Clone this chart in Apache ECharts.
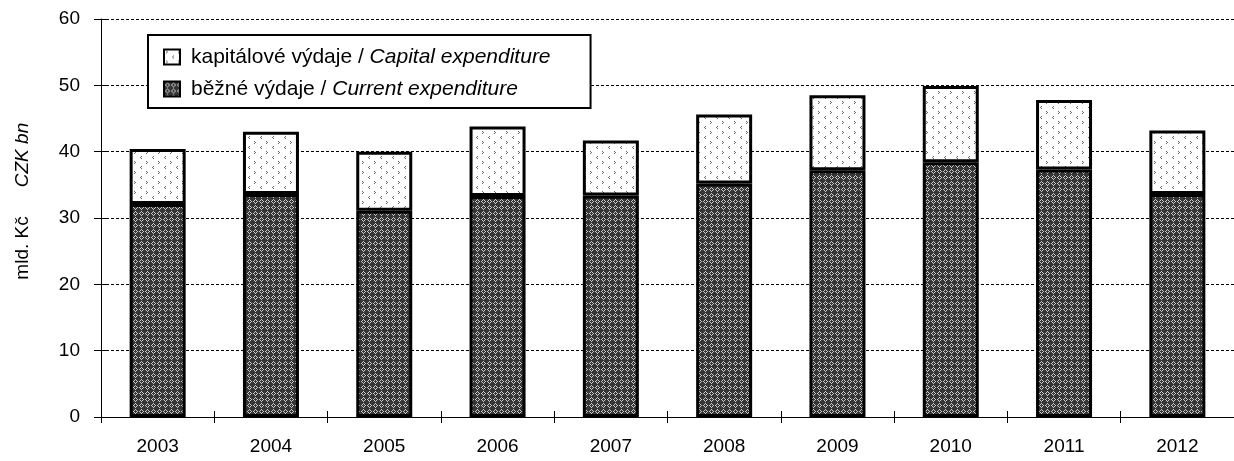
<!DOCTYPE html>
<html>
<head>
<meta charset="utf-8">
<script src="https://cdn.jsdelivr.net/npm/echarts@6/dist/echarts.min.js"></script>
<style>
  html, body { margin: 0; padding: 0; background: #fff; }
  #chart { width: 1234px; height: 461px; }
</style>
</head>
<body>
<div id="chart"></div>
<script>
// data
const years = ['2003', '2004', '2005', '2006', '2007', '2008', '2009', '2010', '2011', '2012'];
const currentExp = [32.1, 33.6, 31.1, 33.3, 33.4, 35.2, 37.2, 38.4, 37.3, 33.6];
const capitalExp = [8.3, 9.4, 8.9, 10.5, 8.3, 10.4, 11.3, 11.5, 10.5, 9.6];
const capitalName = ['kapitálové výdaje / ', 'Capital expenditure'];
const currentName = ['běžné výdaje / ', 'Current expenditure'];
const yTicks = [0, 10, 20, 30, 40, 50, 60];

const FONT = '"Liberation Sans", Arial, sans-serif';

// dark lattice fill for current expenditure
function darkPattern() {
  const c = document.createElement('canvas');
  c.width = 6; c.height = 6;
  const g = c.getContext('2d');
  g.fillStyle = '#363636';
  g.fillRect(0, 0, 6, 6);
  g.fillStyle = '#c8c8c8';
  [[1,3],[5,3],[3,1],[3,5],[2,2],[4,2],[2,4],[4,4]].forEach(p => g.fillRect(p[0], p[1], 1, 1));
  return c;
}

// white with small grey marks for capital expenditure
function dotPattern() {
  const c = document.createElement('canvas');
  c.width = 12; c.height = 10;
  const g = c.getContext('2d');
  g.fillStyle = '#ffffff';
  g.fillRect(0, 0, 12, 10);
  g.fillStyle = '#666666';
  // ">" mark
  g.fillRect(2, 1, 1, 1); g.fillRect(3, 2, 1, 1); g.fillRect(2, 3, 1, 1);
  // "c" mark
  g.fillRect(9, 6, 1, 1); g.fillRect(8, 7, 1, 1); g.fillRect(9, 8, 1, 1);
  return c;
}

const chart = echarts.init(document.getElementById('chart'));

const legendRich = {
  n: { fontFamily: FONT, fontSize: 21, color: '#000' },
  i: { fontFamily: FONT, fontSize: 21, color: '#000', fontStyle: 'italic' }
};

const option = {
  animation: false,
  backgroundColor: '#fff',
  textStyle: { fontFamily: FONT },
  grid: { left: 101, right: -4, top: 19, bottom: 44 },
  legend: {
    orient: 'vertical',
    left: 148,
    top: 35,
    padding: [11, 40, 8, 15],
    itemGap: 10,
    itemWidth: 16,
    itemHeight: 15,
    icon: 'rect',
    backgroundColor: '#fff',
    borderColor: '#000',
    borderWidth: 2,
    borderRadius: 0,
    data: [capitalName.join(''), currentName.join('')],
    itemStyle: { borderWidth: 2, borderColor: '#000' },
    formatter: function (name) {
      const parts = name === capitalName.join('') ? capitalName : currentName;
      return '{n|' + parts[0] + '}{i|' + parts[1] + '}';
    },
    textStyle: { rich: legendRich, lineHeight: 22, padding: [0, 0, 0, 6] }
  },
  xAxis: [{
    type: 'category',
    data: years,
    axisLine: { lineStyle: { color: '#000', width: 1 } },
    axisTick: { show: true, length: 6, lineStyle: { color: '#000' } },
    axisLabel: { color: '#000', fontSize: 19, fontFamily: FONT, margin: 20 },
    splitLine: { show: false }
  }, {
    type: 'category',
    data: years,
    position: 'bottom',
    axisLine: { show: false },
    axisTick: { show: true, inside: true, length: 6, lineStyle: { color: '#000' } },
    axisLabel: { show: false }
  }],
  yAxis: [{
    type: 'value',
    min: yTicks[0],
    max: yTicks[yTicks.length - 1],
    interval: 10,
    axisLine: { show: true, lineStyle: { color: '#000', width: 1 } },
    axisTick: { show: true, length: 7, lineStyle: { color: '#000' } },
    axisLabel: { color: '#000', fontSize: 19, fontFamily: FONT, margin: 21 },
    splitLine: { show: true, lineStyle: { color: '#000', width: 1, type: [3, 2] } }
  }, {
    type: 'value',
    min: yTicks[0],
    max: yTicks[yTicks.length - 1],
    interval: 10,
    position: 'left',
    axisLine: { show: false },
    axisTick: { show: true, inside: true, length: 7, lineStyle: { color: '#000' } },
    axisLabel: { show: false },
    splitLine: { show: false }
  }],
  graphic: [{
    type: 'text',
    x: 23, y: 248,
    rotation: Math.PI / 2,
    style: { text: 'mld. Kč', font: '19px ' + FONT, fill: '#000', align: 'center', verticalAlign: 'middle' }
  }, {
    type: 'text',
    x: 23, y: 155,
    rotation: Math.PI / 2,
    style: { text: 'CZK bn', font: 'italic 19px ' + FONT, fill: '#000', align: 'center', verticalAlign: 'middle' }
  }],
  series: [{
    name: currentName.join(''),
    type: 'bar',
    stack: 'total',
    barWidth: 56,
    data: currentExp,
    itemStyle: { color: { image: darkPattern(), repeat: 'repeat' }, borderColor: '#000', borderWidth: 3 }
  }, {
    name: capitalName.join(''),
    type: 'bar',
    stack: 'total',
    barWidth: 56,
    data: capitalExp,
    itemStyle: { color: { image: dotPattern(), repeat: 'repeat' }, borderColor: '#000', borderWidth: 3 }
  }]
};

chart.setOption(option);
</script>
</body>
</html>
